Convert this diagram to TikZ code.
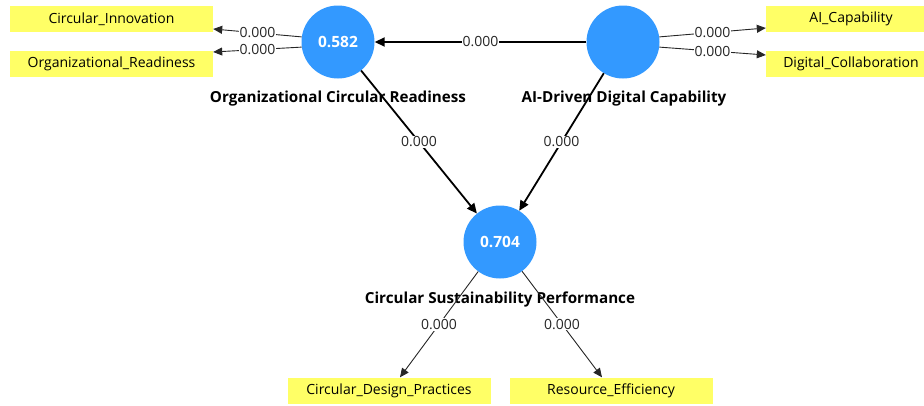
\documentclass[tikz,border=0pt]{standalone}
\usepackage{fontspec}
\setmainfont{Open Sans}
\usetikzlibrary{arrows.meta,calc}
\definecolor{lvblue}{HTML}{3399FF}
\definecolor{ind}{HTML}{FFFF66}
\begin{document}
\begin{tikzpicture}[x=1pt,y=-1pt,
  lv/.style={circle,fill=lvblue,minimum size=73pt,inner sep=0pt,text=white,font=\fontsize{15.5}{16}\selectfont\bfseries},
  box/.style={fill=ind,minimum width=203pt,minimum height=26pt,inner sep=0pt,font=\fontsize{14}{15}\selectfont},
  lvname/.style={font=\fontsize{15.2}{16}\selectfont\bfseries},
  thin/.style={draw=black!85,line width=0.9pt,-{Triangle[length=9pt,width=8pt]}},
  thick/.style={draw=black,line width=1.8pt,-{Triangle[length=10pt,width=9pt]}},
  el/.style={fill=white,inner sep=1pt,font=\fontsize{14}{14}\selectfont,text=black!85}]
\useasboundingbox (0,0) rectangle (924,405);
\node[lv] (orc) at (338,42) {0.582};
\node[lv] (ai) at (623,42) {};
\node[lv] (csp) at (500,242) {0.704};
\node[box] (ci) at (111.5,19) {Circular\_Innovation};
\node[box] (or) at (111.5,64) {Organizational\_Readiness};
\node[box,minimum width=170pt] (aic) at (851,19) {AI\_Capability};
\node[box,minimum width=170pt] (dc) at (851,64) {Digital\_Collaboration};
\node[box] (cdp) at (389,390.5) {Circular\_Design\_Practices};
\node[box] (re) at (611,390.5) {Resource\_Efficiency};
\node[lvname] (orcn) at (338,99) {Organizational Circular Readiness};
\node[lvname] (ain) at (624,99) {AI-Driven Digital Capability};
\node[lvname] (cspn) at (500,300) {Circular Sustainability Performance};
\draw[thin] (orc.172) -- node[el]{0.000} ($(ci.east)+(0,10)$);
\draw[thin] (orc.188) -- node[el]{0.000} ($(or.east)+(0,-12)$);
\draw[thin] (ai.8) -- node[el]{0.000} ($(aic.west)+(0,9)$);
\draw[thin] (ai.352) -- node[el]{0.000} ($(dc.west)+(0,-9)$);
\draw[thick] (ai) -- node[el]{0.000} (orc);
\draw[thick] (orc) -- node[el]{0.000} (csp);
\draw[thick] (ai) -- node[el]{0.000} (csp);
\draw[thin] (csp) -- node[el]{0.000} ($(cdp.north)+(11,0)$);
\draw[thin] (csp) -- node[el]{0.000} ($(re.north)+(-9,0)$);
\end{tikzpicture}
\end{document}
